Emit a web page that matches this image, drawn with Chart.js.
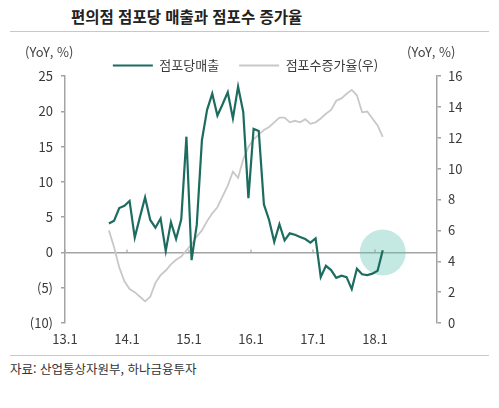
<!DOCTYPE html>
<html lang="ko">
<head>
<meta charset="utf-8">
<script src="https://cdn.jsdelivr.net/npm/chart.js@4.4.1/dist/chart.umd.min.js"></script>
<style>
  html, body { margin: 0; padding: 0; background: #fff; }
  body { width: 499px; height: 408px; position: relative; overflow: hidden; font-family: "Noto Sans CJK KR", "Noto Sans", sans-serif; color: #333; }
  #title { position: absolute; left: 71px; top: 5px; font-size: 15.5px; font-weight: bold; color: #222; white-space: nowrap; }
  .rule { position: absolute; left: 10px; width: 479px; height: 0; border-top: 1.5px solid #c8c8c8; }
  .unit { position: absolute; top: 42px; font-size: 13px; color: #444; white-space: nowrap; }
  #source { position: absolute; left: 10px; top: 359px; font-size: 12.5px; color: #333; white-space: nowrap; }
  #chart { position: absolute; left: 0; top: 0; }
</style>
</head>
<body>
<div id="title">편의점 점포당 매출과 점포수 증가율</div>
<div class="rule" style="top:31px"></div>
<canvas id="chart" width="499" height="350"></canvas>
<div class="unit" style="left:25px">(YoY, %)</div>
<div class="unit" style="left:407px">(YoY, %)</div>
<div class="rule" style="top:355px"></div>
<div id="source">자료: 산업통상자원부, 하나금융투자</div>

<script>
// ===== Data =====
const months = [
  '13.9', '13.10', '13.11', '13.12',
  '14.1', '14.2', '14.3', '14.4', '14.5', '14.6', '14.7', '14.8', '14.9', '14.10', '14.11', '14.12',
  '15.1', '15.2', '15.3', '15.4', '15.5', '15.6', '15.7', '15.8', '15.9', '15.10', '15.11', '15.12',
  '16.1', '16.2', '16.3', '16.4', '16.5', '16.6', '16.7', '16.8', '16.9', '16.10', '16.11', '16.12',
  '17.1', '17.2', '17.3', '17.4', '17.5', '17.6', '17.7', '17.8', '17.9', '17.10', '17.11', '17.12',
  '18.1', '18.2'
]

// 점포당매출 (YoY, %), left axis
const salesPerStore = [
  4.1, 4.5, 6.3, 6.6,
  7.3, 2.1, 5.0, 7.8, 4.6, 3.5, 4.8, 0.2, 4.3, 1.9, 4.7, 16.4,
  -1.1, 3.9, 15.9, 20.2, 22.5, 19.4, 21.0, 22.7, 19.0, 23.5, 19.9, 7.7,
  17.5, 17.2, 6.8, 4.6, 1.5, 4.0, 1.7, 2.7, 2.5, 2.2, 1.9, 1.4,
  2.0, -3.5, -1.9, -2.5, -3.6, -3.3, -3.5, -5.2, -2.3, -3.1, -3.2, -3.0,
  -2.6, 0.3
]

// 점포수증가율 (YoY, %), right axis
const storeGrowth = [
  6.0, 4.9, 3.6, 2.7,
  2.2, 2.0, 1.7, 1.4, 1.7, 2.6, 3.1, 3.4, 3.8, 4.1, 4.3, 4.7,
  5.1, 5.6, 6.0, 6.6, 7.1, 7.5, 8.2, 8.9, 9.8, 9.4, 10.6, 11.4,
  11.9, 12.2, 12.5, 12.7, 13.0, 13.3, 13.3, 13.0, 13.1, 13.0, 13.2, 12.9,
  13.0, 13.25, 13.55, 13.8, 14.4, 14.55, 14.85, 15.1, 14.75, 13.65, 13.7, 13.25,
  12.8, 12.05
]

const xTickLabels = ['13.1', '14.1', '15.1', '16.1', '17.1', '18.1']
const xAxisEnd = '19.1'
const leftTickValues = [-10, -5, 0, 5, 10, 15, 20, 25]
const leftTickLabels = ['(10)', '(5)', '0', '5', '10', '15', '20', '25']
const rightTickValues = [0, 2, 4, 6, 8, 10, 12, 14, 16]
const rightTickLabels = ['0', '2', '4', '6', '8', '10', '12', '14', '16']

// ===== Helpers =====
const baseYear = 13
function monthIndex(label) {
  const [yy, mm] = label.split('.').map(Number)
  return (yy - baseYear) * 12 + (mm - 1)
}
// monthly values sit in the middle of their month
const toPoints = values => values.map((v, i) => ({ x: monthIndex(months[i]) + 0.5, y: v }))

const green = '#1d6c60'
const grey = '#c8c8c8'
const axisColor = '#a3a3a3'
const labelColor = '#3a3a3a'
const fontFamily = '"Noto Sans CJK KR", "Noto Sans", sans-serif'

const lastMonth = months[months.length - 1]

// small ticks on the zero line at each x tick
const zeroLineTicks = {
  id: 'zeroLineTicks',
  beforeDatasetsDraw(chart) {
    const xs = chart.scales.x
    const y0 = chart.scales.y.getPixelForValue(0)
    const ctx = chart.ctx
    ctx.save()
    ctx.strokeStyle = axisColor
    ctx.lineWidth = 1.2
    xs.ticks.forEach(t => {
      const px = xs.getPixelForValue(t.value)
      ctx.beginPath()
      ctx.moveTo(px, y0)
      ctx.lineTo(px, y0 - 3)
      ctx.stroke()
    })
    ctx.restore()
  }
}

// keep room between legend and plot
const legendHeight = {
  id: 'legendHeight',
  beforeInit(chart) {
    const fit = chart.legend.fit
    chart.legend.fit = function () {
      fit.bind(chart.legend)()
      this.height = 37
    }
  }
}

new Chart(document.getElementById('chart'), {
  type: 'line',
  data: {
    datasets: [
      {
        label: '점포당매출',
        data: toPoints(salesPerStore),
        yAxisID: 'y',
        borderColor: green,
        backgroundColor: green,
        borderWidth: 2.2,
        pointRadius: 0,
        tension: 0,
        order: 1
      },
      {
        label: '점포수증가율(우)',
        data: toPoints(storeGrowth),
        yAxisID: 'y1',
        borderColor: grey,
        backgroundColor: grey,
        borderWidth: 1.8,
        pointRadius: 0,
        tension: 0,
        order: 2
      },
      {
        label: 'highlight',
        type: 'scatter',
        data: [{ x: monthIndex(lastMonth) + 0.5, y: 0 }],
        yAxisID: 'y',
        pointRadius: 23,
        pointHoverRadius: 23,
        backgroundColor: 'rgba(96, 196, 180, 0.38)',
        borderWidth: 0,
        order: 10
      }
    ]
  },
  options: {
    responsive: false,
    animation: false,
    layout: { padding: { top: 39, left: 0, right: 8, bottom: 0 } },
    plugins: {
      tooltip: { enabled: false },
      legend: {
        position: 'top',
        labels: {
          usePointStyle: true,
          pointStyle: 'line',
          pointStyleWidth: 40,
          padding: 20,
          color: labelColor,
          font: { family: fontFamily, size: 13 },
          filter: item => item.datasetIndex < 2
        }
      }
    },
    scales: {
      x: {
        type: 'linear',
        min: monthIndex(xTickLabels[0]),
        max: monthIndex(xAxisEnd),
        afterBuildTicks: s => { s.ticks = xTickLabels.map(l => ({ value: monthIndex(l) })) },
        afterFit: s => { s.height = 27 },
        grid: { display: false, drawTicks: false },
        border: { display: false },
        ticks: {
          padding: 8,
          maxRotation: 0,
          color: labelColor,
          font: { family: fontFamily, size: 13 },
          callback: (v, i) => xTickLabels[i]
        }
      },
      y: {
        position: 'left',
        min: leftTickValues[0],
        max: leftTickValues[leftTickValues.length - 1],
        afterBuildTicks: s => { s.ticks = leftTickValues.map(v => ({ value: v })) },
        afterFit: s => { s.width = 65 },
        grid: {
          color: c => (c.tick && c.tick.value === 0 ? axisColor : 'rgba(0,0,0,0)'),
          lineWidth: 1.5,
          tickColor: axisColor,
          tickLength: 4
        },
        border: { color: axisColor, width: 1.5 },
        ticks: {
          padding: 8,
          color: labelColor,
          font: { family: fontFamily, size: 13 },
          callback: (v, i) => leftTickLabels[i]
        }
      },
      y1: {
        position: 'right',
        min: rightTickValues[0],
        max: rightTickValues[rightTickValues.length - 1],
        afterBuildTicks: s => { s.ticks = rightTickValues.map(v => ({ value: v })) },
        afterFit: s => { s.width = 54 },
        grid: { drawOnChartArea: false, tickColor: axisColor, tickLength: 4, lineWidth: 1.5 },
        border: { color: axisColor, width: 1.5 },
        ticks: {
          padding: 7,
          color: labelColor,
          font: { family: fontFamily, size: 13 },
          callback: (v, i) => rightTickLabels[i]
        }
      }
    }
  },
  plugins: [zeroLineTicks, legendHeight]
})
</script>
</body>
</html>
